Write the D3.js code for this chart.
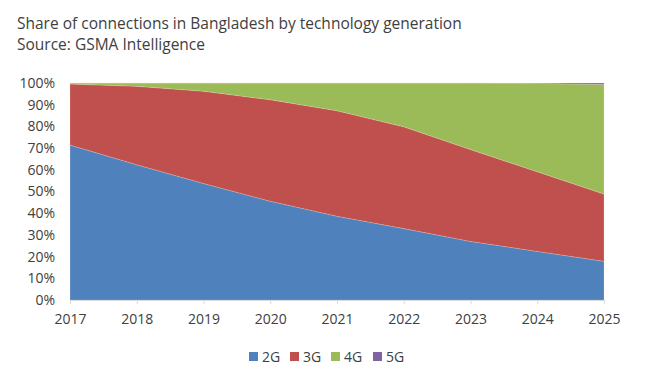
<!DOCTYPE html>
<html><head><meta charset="utf-8">
<script src="https://cdn.jsdelivr.net/npm/d3@7"></script>
<style>body{margin:0;background:#fff}svg{display:block}</style>
</head><body><svg id="c" width="650" height="389"></svg>
<script>
const years = [2017, 2018, 2019, 2020, 2021, 2022, 2023, 2024, 2025];
const share2G = [71.4, 62.3, 53.7, 45.5, 38.6, 32.9, 27.0, 22.4, 17.8];
const share3G = [28.1, 36.2, 42.5, 46.8, 48.6, 46.9, 42.3, 36.7, 31.0];
const share5G = [0, 0, 0, 0, 0, 0, 0, 0.2, 0.7];
const share4G = years.map((y, i) => +(100 - share2G[i] - share3G[i] - share5G[i]).toFixed(1));
const seriesNames = ["2G", "3G", "4G", "5G"];
const colors = ["#4f81bd", "#c0504d", "#9bbb59", "#8064a2"];
const yTicks = [0, 10, 20, 30, 40, 50, 60, 70, 80, 90, 100];

const rows = years.map((y, i) => ({year: y, "2G": share2G[i], "3G": share3G[i], "4G": share4G[i], "5G": share5G[i]}));
const svg = d3.select("#c");
const font = "Open Sans, sans-serif";
const x = d3.scaleLinear().domain([2017, 2025]).range([70, 604]);
const y = d3.scaleLinear().domain([0, 100]).range([300, 83]);

const stack = d3.stack().keys(seriesNames)(rows);
const area = d3.area().x(d => x(d.data.year)).y0(d => y(d[0])).y1(d => y(d[1]));
svg.append("g").selectAll("path").data(stack).join("path")
  .attr("d", area).attr("fill", (d, i) => colors[i])
  .attr("stroke", "rgba(255,230,200,0.35)").attr("stroke-width", 0.6);

// x axis
const xAxis = svg.append("g").attr("transform", "translate(0,300)")
  .call(d3.axisBottom(x).tickValues(years).tickFormat(d3.format("d")).tickSize(4).tickPadding(10));
xAxis.select(".domain").attr("stroke", "#d9d9d9");
xAxis.selectAll(".tick line").attr("stroke", "#d9d9d9");
xAxis.selectAll("text").attr("font-family", font).attr("font-size", 14).attr("fill", "#404040");

// y axis
const yAxis = svg.append("g").attr("transform", "translate(60,0)")
  .call(d3.axisLeft(y).tickValues(yTicks).tickFormat(d => d + "%").tickSize(0).tickPadding(5));
yAxis.select(".domain").remove();
yAxis.selectAll("text").attr("font-family", font).attr("font-size", 14).attr("fill", "#404040");

// title
svg.append("text").attr("x", 17).attr("y", 29).attr("font-family", font).attr("font-size", 15.5)
  .attr("fill", "#404040").text("Share of connections in Bangladesh by technology generation");
svg.append("text").attr("x", 17).attr("y", 50).attr("font-family", font).attr("font-size", 15.5)
  .attr("fill", "#404040").text("Source: GSMA Intelligence");

// legend
const lg = svg.append("g");
const lx = [249, 290, 331, 373];
seriesNames.forEach((n, i) => {
  lg.append("rect").attr("x", lx[i]).attr("y", 352).attr("width", 9).attr("height", 9).attr("fill", colors[i]);
  lg.append("text").attr("x", lx[i] + 13).attr("y", 362).attr("font-family", font).attr("font-size", 14)
    .attr("fill", "#404040").text(n);
});
</script></body></html>
